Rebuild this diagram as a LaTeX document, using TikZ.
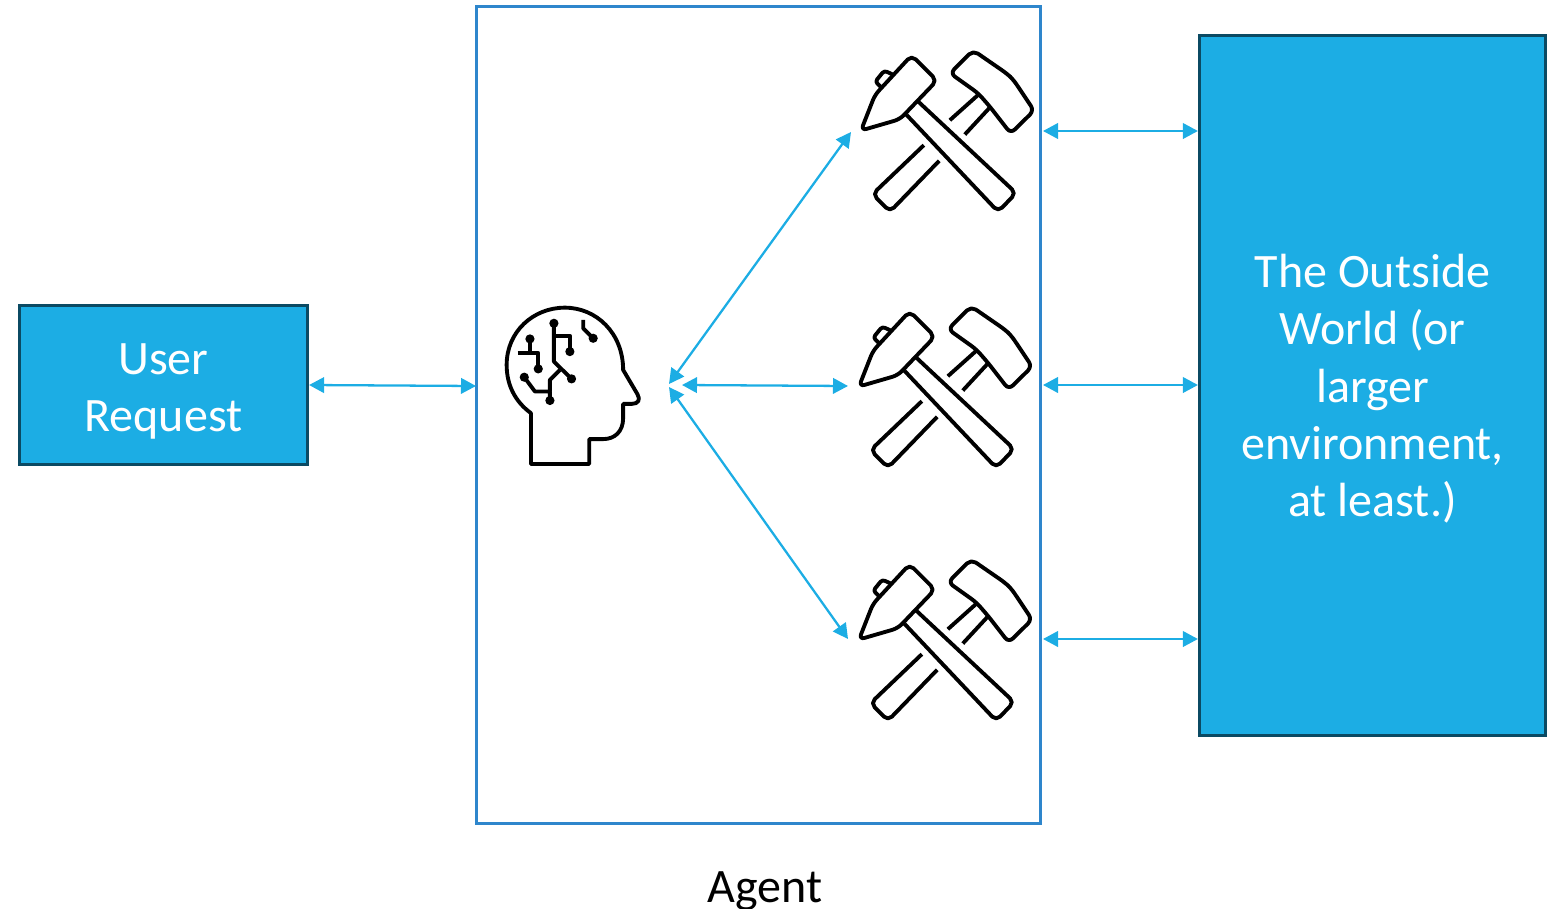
\documentclass[tikz,border=0pt]{standalone}
\usepackage{fontspec}
\setmainfont{Carlito}
\usetikzlibrary{arrows.meta}
\definecolor{office-blue}{HTML}{1CADE4}
\definecolor{office-dark}{HTML}{0B4A63}
\definecolor{agent-blue}{HTML}{2E86CC}

\tikzset{
    bluebox/.style={draw=office-dark, fill=office-blue, line width=0.85pt, text=white, align=center,
                    inner sep=0pt, font=\fontsize{13.65}{16.3}\selectfont},
    link/.style={{Triangle[length=1.5mm, width=1.55mm]}-{Triangle[length=1.5mm, width=1.55mm]}, color=office-blue, line width=0.65pt},
    icon/.style={line width=1.1pt, line join=round, color=black},
    pics/hammers/.style={code={
        \begin{scope}[x=0.00333cm, y=-0.00333cm, icon]
            % left head
            \draw[rounded corners=1.6pt] (185,46) -- (261,122) -- (150,238) -- (33,272) -- (75,165) -- cycle;
            \draw[rounded corners=0.8pt] (97,145) -- (76,125) -- (103,92) -- (129,104);
            % left handle
            \draw[rounded corners=1.6pt] (205,185) -- (499,460) -- (445,516) -- (170,225);
            \draw[rounded corners=1.6pt] (222,316) -- (68,463) -- (120,516) -- (268,363);
            % right head
            \draw[rounded corners=1.6pt] (370,31) -- (470,100) -- (490,118) -- (553,212) -- (483,281) -- (420,200) -- (385,160) -- (301,100) -- cycle;
            % right handle
            \draw (385,165) -- (300,241);
            \draw (420,203) -- (345,284);
        \end{scope}
    }},
    pics/brain/.style={code={
        \begin{scope}[x=0.00333cm, y=-0.00333cm, icon]
            % outline
            \draw (108,508) -- (108,355) .. controls (60,320) and (35,270) .. (35,210)
                .. controls (35,110) and (115,38) .. (210,38)
                .. controls (305,38) and (385,115) .. (385,225)
                -- (428,298) .. controls (438,315) and (430,327) .. (412,327)
                -- (385,327) -- (385,370) .. controls (385,410) and (360,433) .. (325,433)
                -- (283,433) -- (283,508) -- cycle;
            % traces
            \draw (177,85) -- (177,200) -- (230,252);
            \draw (177,122) -- (225,122) -- (225,170);
            \draw (105,132) -- (105,174);
            \draw (68,174) -- (130,174) -- (130,222);
            \draw (88,247) -- (120,290) -- (165,290) -- (165,317);
            \draw (165,290) -- (165,255) -- (195,225);
            \draw (265,75) -- (265,100) -- (295,130);
            % pads
            \foreach \px/\py in {177/85, 230/252, 225/170, 105/132, 130/222, 88/247, 165/317, 295/130}
                \fill (\px,\py) circle (0.46mm);
        \end{scope}
    }}
}

\begin{document}
\begin{tikzpicture}[x=0.01cm, y=-0.01cm]

    \useasboundingbox (0,0) rectangle (1554,909);

    % boxes
    \node[bluebox, minimum width=2.88cm, minimum height=1.595cm] (user) at (163.5,385)
        {\rule{0pt}{0.44cm}User\\Request};
    \node[draw=agent-blue, line width=0.85pt, minimum width=5.64cm, minimum height=8.16cm, inner sep=0pt] (agent) at (758.5,415) {};
    \node[bluebox, minimum width=3.46cm, minimum height=7.005cm] (outside) at (1372.5,385.5)
        {\rule{0pt}{0.4cm}The Outside\\World (or\\larger\\environment,\\at least.)};
    \node[font=\fontsize{13.65}{16.3}\selectfont, inner sep=0pt] (agentlabel) at (765,891) {Agent};

    % icons
    \pic at (495,295) {brain};
    \pic at (850,40) {hammers};
    \pic at (848,296) {hammers};
    \pic at (848,549) {hammers};

    % arrow ends
    \coordinate (braintop) at (669,384);
    \coordinate (brainmid) at (682,385);
    \coordinate (brainbot) at (669,387);
    \coordinate (tool1w) at (851,132);
    \coordinate (tool2w) at (848,386);
    \coordinate (tool3w) at (848,639);
    \coordinate (tool1e) at (1043,131);
    \coordinate (tool2e) at (1043,385);
    \coordinate (tool3e) at (1043,639);
    \coordinate (agentin) at (476,386);

    % arrows
    \draw[link] (user.east) -- (agentin);
    \draw[link] (braintop) -- (tool1w);
    \draw[link] (brainmid) -- (tool2w);
    \draw[link] (brainbot) -- (tool3w);
    \draw[link] (tool1e) -- (outside.west |- tool1e);
    \draw[link] (tool2e) -- (outside.west |- tool2e);
    \draw[link] (tool3e) -- (outside.west |- tool3e);

\end{tikzpicture}
\end{document}
